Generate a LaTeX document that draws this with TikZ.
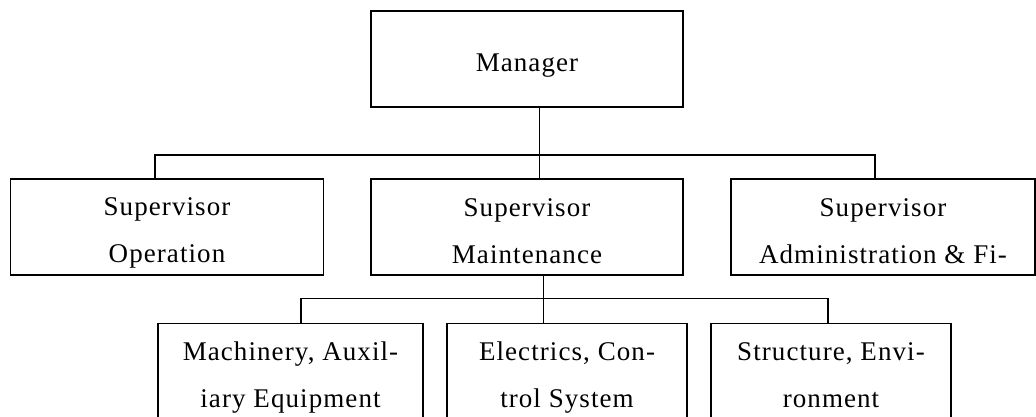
\documentclass[tikz,border=0pt]{standalone}
\usepackage{fontspec}
\usepackage{tikz}
\newfontfamily\chartfont[LetterSpace=4]{Liberation Serif}
% fixed line box so every label sits the same way in its box
\newcommand{\rowstrut}{\rule[-5pt]{0pt}{35pt}}
\tikzset{
  unit/.style={draw,line width=1.2pt,rectangle,inner sep=0pt,align=center,
    minimum height=96pt,font={\chartfont\fontsize{27}{47}\selectfont}},
  wire/.style={line width=1.2pt}
}

\begin{document}
\begin{tikzpicture}[x=1pt,y=-1pt]
\useasboundingbox (0,0) rectangle (1036,416);
\clip (0,0) rectangle (1036,416);
% top level
\node[unit,minimum width=312pt] (mgr) at (527,59) {\rowstrut Manager};
% supervisors
\node[unit,minimum width=313pt] (op)  at (167,227) {\rowstrut Supervisor\\\rowstrut Operation};
\node[unit,minimum width=312pt] (mnt) at (527,227) {\rowstrut Supervisor\\\rowstrut Maintenance};
\node[unit,minimum width=304pt] (adm) at (883,227) {\rowstrut Supervisor\\\rowstrut Administration \& Fi-};
% maintenance sections
\node[unit,minimum width=265pt,anchor=north] (mach) at (290.5,323) {\rowstrut Machinery, Auxil-\\\rowstrut iary Equipment};
\node[unit,minimum width=240pt,anchor=north] (elec) at (567,323) {\rowstrut Electrics, Con-\\\rowstrut trol System};
\node[unit,minimum width=240pt,anchor=north] (strc) at (831,323) {\rowstrut Structure, Envi-\\\rowstrut ronment};
% buses
\coordinate (b1L) at (155,155);
\coordinate (b1M) at (539.5,155);
\coordinate (b1R) at (875,155);
\coordinate (b2L) at (301,298.5);
\coordinate (b2M) at (543.3,298.5);
\coordinate (b2R) at (828,298.5);
\draw[wire] (mgr.south -| b1M) -- (b1M |- mnt.north);
\draw[wire] (b1L |- op.north) -- (b1L) -- (b1R) -- (b1R |- adm.north);
\draw[wire] (mnt.south -| b2M) -- (b2M |- elec.north);
\draw[wire] (b2L |- mach.north) -- (b2L) -- (b2R) -- (b2R |- strc.north);
\end{tikzpicture}
\end{document}
